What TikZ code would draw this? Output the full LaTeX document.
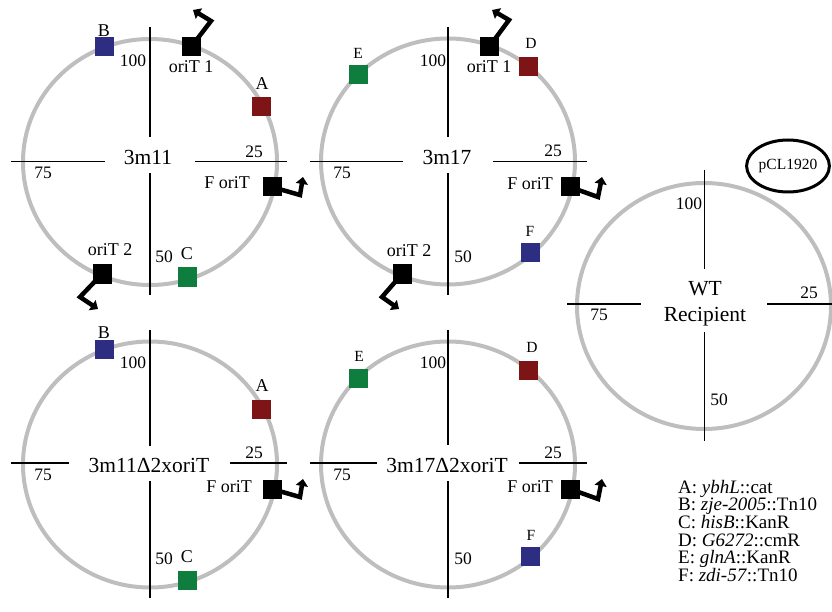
\documentclass[tikz,border=0pt]{standalone}
\usepackage{fontspec}
\setmainfont{Liberation Serif}
\usetikzlibrary{arrows.meta,shapes.geometric}
\definecolor{ringgray}{RGB}{190,190,190}
\definecolor{mred}{RGB}{125,20,22}
\definecolor{mblue}{RGB}{45,45,130}
\definecolor{mgreen}{RGB}{15,125,62}
\begin{document}
\begin{tikzpicture}[x=1pt,y=-1pt,
  ring/.style={draw=ringgray, line width=4pt, ellipse, inner sep=0pt, minimum width=254pt, minimum height=246pt},
  axisline/.style={line width=1.2pt},
  gsq/.style={fill=#1, minimum size=19pt, inner sep=0pt, draw=none},
  tss/.style={line width=4.5pt, line join=miter, -{Triangle[width=12pt,length=7pt]}},
  ctr/.style={font=\fontsize{21.5}{24}\selectfont, inner sep=0pt},
  num/.style={font=\fontsize{17.5}{20}\selectfont, inner sep=0pt},
  lab/.style={font=\fontsize{18}{20}\selectfont, inner sep=0pt},
  slab/.style={font=\fontsize{15.5}{18}\selectfont, inner sep=0pt},
  leg/.style={font=\fontsize{19}{20}\selectfont, inner sep=0pt, anchor=base west}]
\path[use as bounding box] (0,0) rectangle (832,612);

% ===== rings =====
\node[ring] (r1) at (150,162) {};
\node[ring] (r2) at (448,161.5) {};
\node[ring] (r3) at (704,306) {};
\node[ring] (r4) at (150,464.5) {};
\node[ring] (r5) at (448,464.5) {};

% ===== axes =====
\draw[axisline] (150,27) -- (150,137) (150,173) -- (150,295) (11,161.5) -- (105,161.5) (195,161.5) -- (287,161.5);
\draw[axisline] (448,27) -- (448,137) (448,173) -- (448,295) (310,161.5) -- (403,161.5) (493,161.5) -- (587,161.5);
\draw[axisline] (704.5,170) -- (704.5,269) (704.5,332) -- (704.5,441) (567,304) -- (641,304) (767,304) -- (832,304);
\draw[axisline] (150,330) -- (150,446) (150,481) -- (150,598) (11,463) -- (69,463) (230,463) -- (287,463);
\draw[axisline] (448,330) -- (448,445) (448,481) -- (448,598) (310,463) -- (377,463) (519,463) -- (587,463);

% ===== coordinates for arrows =====
\coordinate (a1e) at (211,21);  \coordinate (a1t) at (193,10);
\coordinate (f1e) at (300,195); \coordinate (f1t) at (303,177);
\coordinate (b1e) at (80,297);  \coordinate (b1t) at (98,309);
\coordinate (a2e) at (509,20);  \coordinate (a2t) at (492,10);
\coordinate (f2e) at (598,197); \coordinate (f2t) at (602,177);
\coordinate (b2e) at (382,297); \coordinate (b2t) at (399,309);
\coordinate (f4e) at (300,497); \coordinate (f4t) at (303,479);
\coordinate (f5e) at (598,499); \coordinate (f5t) at (602,479);

% ===== circle 1 : 3m11 =====
\node[gsq=black] (o1a) at (191,47) {};
\node[gsq=black] (fo1) at (272,187) {};
\node[gsq=black] (o1b) at (102,274) {};
\draw[tss] (o1a.center) -- (a1e) -- (a1t);
\draw[tss] (fo1.center) -- (f1e) -- (f1t);
\draw[tss] (o1b.center) -- (b1e) -- (b1t);
\node[gsq=black] at (o1a) {};
\node[gsq=black] at (fo1) {};
\node[gsq=black] at (o1b) {};
\node[gsq=mblue] (sB1) at (104,47) {};
\node[gsq=mred] (sA1) at (261,107) {};
\node[gsq=mgreen] (sC1) at (187,277) {};
\node[lab] (lB1) at (104,31) {B};
\node[lab] (lA1) at (262,84) {A};
\node[lab] (lC1) at (187,254) {C};
\node[lab] (lo1a) at (191,67) {oriT 1};
\node[lab] (lfo1) at (227,183) {F oriT};
\node[lab] (lo1b) at (110,250) {oriT 2};
\node[ctr] (n1) at (148,157) {3m11};
\node[num] (n1a) at (133,61) {100};
\node[num] (n1b) at (254,152) {25};
\node[num] (n1c) at (43,173) {75};
\node[num] (n1d) at (164,257) {50};

% ===== circle 2 : 3m17 =====
\node[gsq=black] (o2a) at (489,47) {};
\node[gsq=black] (fo2) at (570,187) {};
\node[gsq=black] (o2b) at (402,274) {};
\draw[tss] (o2a.center) -- (a2e) -- (a2t);
\draw[tss] (fo2.center) -- (f2e) -- (f2t);
\draw[tss] (o2b.center) -- (b2e) -- (b2t);
\node[gsq=black] at (o2a) {};
\node[gsq=black] at (fo2) {};
\node[gsq=black] at (o2b) {};
\node[gsq=mgreen] (sE2) at (358,75) {};
\node[gsq=mred] (sD2) at (528,67) {};
\node[gsq=mblue] (sF2) at (530,253) {};
\node[slab] (lE2) at (358,53) {E};
\node[slab] (lD2) at (531,43) {D};
\node[slab] (lF2) at (530,231) {F};
\node[lab] (lo2a) at (489,67) {oriT 1};
\node[lab] (lfo2) at (530,184) {F oriT};
\node[lab] (lo2b) at (409,251) {oriT 2};
\node[ctr] (n2) at (447,157) {3m17};
\node[num] (n2a) at (433,61) {100};
\node[num] (n2b) at (553,151) {25};
\node[num] (n2c) at (342,173) {75};
\node[num] (n2d) at (463,257) {50};

% ===== WT recipient =====
\node[ctr, anchor=base] (wt1) at (705,295) {WT};
\node[ctr, anchor=base] (wt2) at (705,321) {Recipient};
\node[num] (n3a) at (689,204) {100};
\node[num] (n3b) at (809,293) {25};
\node[num] (n3c) at (599,315) {75};
\node[num] (n3d) at (719,400) {50};
\node[draw, line width=3pt, ellipse, inner sep=0pt, minimum width=80pt, minimum height=52pt,
      font=\fontsize{15.5}{18}\selectfont] (pcl) at (788,166) {pCL1920};

% ===== circle 4 : 3m11D2xoriT =====
\node[gsq=black] (fo4) at (272,489) {};
\draw[tss] (fo4.center) -- (f4e) -- (f4t);
\node[gsq=black] at (fo4) {};
\node[gsq=mblue] (sB4) at (104,349) {};
\node[gsq=mred] (sA4) at (261,409) {};
\node[gsq=mgreen] (sC4) at (187,580) {};
\node[lab] (lB4) at (104,333) {B};
\node[lab] (lA4) at (262,386) {A};
\node[lab] (lC4) at (187,557) {C};
\node[lab] (lfo4) at (229,487) {F oriT};
\node[ctr] (n4) at (149,465) {3m11Δ2xoriT};
\node[num] (n4a) at (133,363) {100};
\node[num] (n4b) at (254,453) {25};
\node[num] (n4c) at (43,475) {75};
\node[num] (n4d) at (164,559) {50};

% ===== circle 5 : 3m17D2xoriT =====
\node[gsq=black] (fo5) at (570,489) {};
\draw[tss] (fo5.center) -- (f5e) -- (f5t);
\node[gsq=black] at (fo5) {};
\node[gsq=mgreen] (sE5) at (358,378) {};
\node[gsq=mred] (sD5) at (528,370) {};
\node[gsq=mblue] (sF5) at (530,556) {};
\node[slab] (lE5) at (359,356) {E};
\node[slab] (lD5) at (532,347) {D};
\node[slab] (lF5) at (531,535) {F};
\node[lab] (lfo5) at (530,487) {F oriT};
\node[ctr] (n5) at (447,465) {3m17Δ2xoriT};
\node[num] (n5a) at (433,363) {100};
\node[num] (n5b) at (553,453) {25};
\node[num] (n5c) at (342,475) {75};
\node[num] (n5d) at (463,559) {50};

% ===== legend =====
\node[leg] (g1) at (678,493) {A: \textit{ybhL}::cat};
\node[leg] (g2) at (678,510.7) {B: \textit{zje-2005}::Tn10};
\node[leg] (g3) at (678,528.3) {C: \textit{hisB}::KanR};
\node[leg] (g4) at (678,546) {D: \textit{G6272}::cmR};
\node[leg] (g5) at (678,563.7) {E: \textit{glnA}::KanR};
\node[leg] (g6) at (678,581.5) {F: \textit{zdi-57}::Tn10};
\end{tikzpicture}
\end{document}
